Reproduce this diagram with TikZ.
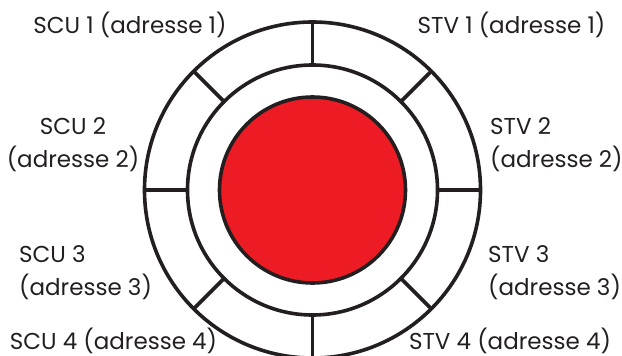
\documentclass[tikz,border=0pt]{standalone}
\usepackage{fontspec}
\setmainfont{Poppins}
\usepackage{xcolor}
\definecolor{inkgray}{HTML}{231F20}
\definecolor{corered}{HTML}{ED1C24}
\usetikzlibrary{positioning}

\begin{document}
\begin{tikzpicture}[
    x=1pt, y=-1pt,
    font=\fontsize{23}{32.5}\selectfont,
    ring/.style={
        draw=inkgray,
        line width=3.6pt,
        circle,
        outer sep=0pt,
        inner sep=0pt
    },
    spoke/.style={
        draw=inkgray,
        line width=3.6pt
    },
    addr/.style={
        text=inkgray,
        inner sep=0pt,
        align=left
    }
]
\useasboundingbox (0,0) rectangle (622,356);

% rings
\coordinate (c) at (312.5,190);
\node[ring, minimum size=336pt] (outer) at (c) {};
\node[ring, minimum size=250pt] (inner) at (c) {};
\node[ring, minimum size=186pt, fill=corered] (core) at (c) {};

\foreach \a in {0,45,...,315}
    \draw[spoke] (inner.\a) -- (outer.\a);

% left side
\node[addr, anchor=base] (scu1) at (130,34) {SCU 1 (adresse 1)};
\node[addr, anchor=north, align=center] (scu2) at (73,117.5) {SCU 2\\(adresse 2)};
\node[addr, anchor=north west] (scu3) at (19,245.5) {SCU 3\\(adresse 3)};
\node[addr, anchor=base] (scu4) at (113.5,349) {SCU 4 (adresse 4)};

% right side
\node[addr, anchor=base] (stv1) at (511.5,34) {STV 1 (adresse 1)};
\node[addr, anchor=north west] (stv2) at (490,117.5) {STV 2\\(adresse 2)};
\node[addr, anchor=north west] (stv3) at (488,245.5) {STV 3\\(adresse 3)};
\node[addr, anchor=base] (stv4) at (510,349) {STV 4 (adresse 4)};

\end{tikzpicture}
\end{document}
